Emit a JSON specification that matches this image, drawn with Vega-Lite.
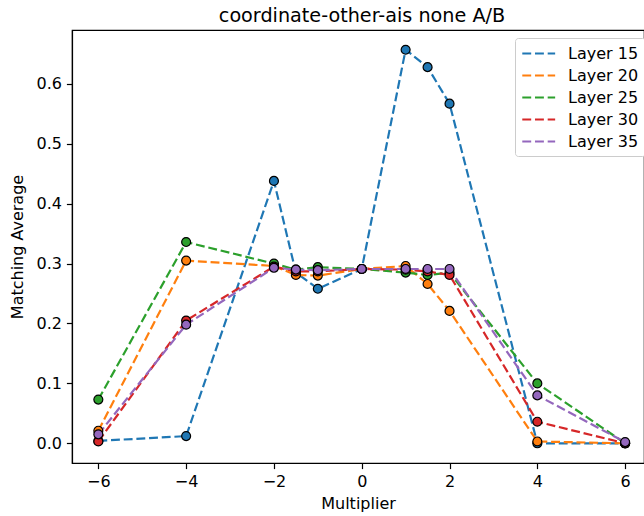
{
  "$schema": "https://vega.github.io/schema/vega-lite/v6.json",
  "autosize": {"type": "none"},
  "padding": {"left": 72, "top": 30, "right": 0, "bottom": 53},
  "width": 572,
  "height": 433,
  "background": "white",
  "title": {"text": "coordinate-other-ais none A/B", "font": "DejaVu Sans", "fontSize": 19.2, "fontWeight": "normal", "color": "black", "offset": 4, "anchor": "middle", "dx": 4},
  "config": {
    "font": "DejaVu Sans",
    "view": {"stroke": "black", "strokeWidth": 1.2},
    "axis": {"grid": false, "domainColor": "black", "domainWidth": 1.2, "tickColor": "black", "tickWidth": 1.2, "tickSize": 5.6, "labelPadding": 5, "labelFontSize": 16, "titleFontSize": 16, "labelColor": "black", "titleColor": "black", "titleFontWeight": "normal", "labelFont": "DejaVu Sans", "titleFont": "DejaVu Sans"}
  },
  "data": {"values": [
    {"layer": "Layer 15", "x": -6, "y": 0.004},
    {"layer": "Layer 15", "x": -4, "y": 0.012},
    {"layer": "Layer 15", "x": -2, "y": 0.438},
    {"layer": "Layer 15", "x": -1.5, "y": 0.285},
    {"layer": "Layer 15", "x": -1, "y": 0.258},
    {"layer": "Layer 15", "x": 0, "y": 0.291},
    {"layer": "Layer 15", "x": 1, "y": 0.657},
    {"layer": "Layer 15", "x": 1.5, "y": 0.628},
    {"layer": "Layer 15", "x": 2, "y": 0.567},
    {"layer": "Layer 15", "x": 4, "y": 0.0},
    {"layer": "Layer 15", "x": 6, "y": 0.0},
    {"layer": "Layer 20", "x": -6, "y": 0.021},
    {"layer": "Layer 20", "x": -4, "y": 0.305},
    {"layer": "Layer 20", "x": -2, "y": 0.296},
    {"layer": "Layer 20", "x": -1.5, "y": 0.281},
    {"layer": "Layer 20", "x": -1, "y": 0.28},
    {"layer": "Layer 20", "x": 0, "y": 0.291},
    {"layer": "Layer 20", "x": 1, "y": 0.296},
    {"layer": "Layer 20", "x": 1.5, "y": 0.266},
    {"layer": "Layer 20", "x": 2, "y": 0.221},
    {"layer": "Layer 20", "x": 4, "y": 0.003},
    {"layer": "Layer 20", "x": 6, "y": 0.0},
    {"layer": "Layer 25", "x": -6, "y": 0.073},
    {"layer": "Layer 25", "x": -4, "y": 0.336},
    {"layer": "Layer 25", "x": -2, "y": 0.3},
    {"layer": "Layer 25", "x": -1.5, "y": 0.29},
    {"layer": "Layer 25", "x": -1, "y": 0.294},
    {"layer": "Layer 25", "x": 0, "y": 0.291},
    {"layer": "Layer 25", "x": 1, "y": 0.285},
    {"layer": "Layer 25", "x": 1.5, "y": 0.281},
    {"layer": "Layer 25", "x": 2, "y": 0.285},
    {"layer": "Layer 25", "x": 4, "y": 0.1},
    {"layer": "Layer 25", "x": 6, "y": 0.0},
    {"layer": "Layer 30", "x": -6, "y": 0.003},
    {"layer": "Layer 30", "x": -4, "y": 0.205},
    {"layer": "Layer 30", "x": -2, "y": 0.295},
    {"layer": "Layer 30", "x": -1.5, "y": 0.287},
    {"layer": "Layer 30", "x": -1, "y": 0.287},
    {"layer": "Layer 30", "x": 0, "y": 0.291},
    {"layer": "Layer 30", "x": 1, "y": 0.29},
    {"layer": "Layer 30", "x": 1.5, "y": 0.287},
    {"layer": "Layer 30", "x": 2, "y": 0.281},
    {"layer": "Layer 30", "x": 4, "y": 0.036},
    {"layer": "Layer 30", "x": 6, "y": 0.0},
    {"layer": "Layer 35", "x": -6, "y": 0.015},
    {"layer": "Layer 35", "x": -4, "y": 0.198},
    {"layer": "Layer 35", "x": -2, "y": 0.293},
    {"layer": "Layer 35", "x": -1.5, "y": 0.29},
    {"layer": "Layer 35", "x": -1, "y": 0.289},
    {"layer": "Layer 35", "x": 0, "y": 0.291},
    {"layer": "Layer 35", "x": 1, "y": 0.291},
    {"layer": "Layer 35", "x": 1.5, "y": 0.291},
    {"layer": "Layer 35", "x": 2, "y": 0.291},
    {"layer": "Layer 35", "x": 4, "y": 0.08},
    {"layer": "Layer 35", "x": 6, "y": 0.002}
  ]},
  "encoding": {
    "x": {"field": "x", "type": "quantitative", "title": "Multiplier", "scale": {"domain": [-6.6, 6.43], "nice": false, "zero": false}, "axis": {"values": [-6, -4, -2, 0, 2, 4, 6], "format": "d", "titlePadding": 6}},
    "y": {"field": "y", "type": "quantitative", "title": "Matching Average", "scale": {"domain": [-0.0329, 0.69], "nice": false, "zero": false}, "axis": {"values": [0, 0.1, 0.2, 0.3, 0.4, 0.5, 0.6], "format": ".1f", "titlePadding": 10}},
    "color": {"field": "layer", "type": "nominal", "scale": {"domain": ["Layer 15", "Layer 20", "Layer 25", "Layer 30", "Layer 35"], "range": ["#1f77b4", "#ff7f0e", "#2ca02c", "#d62728", "#9467bd"]}}
  },
  "layer": [
    {
      "mark": {"type": "line", "strokeDash": [8.9, 3.8], "strokeWidth": 2.2, "clip": true},
      "encoding": {
        "color": {"field": "layer", "type": "nominal", "legend": {"title": null, "orient": "none", "legendX": 443, "legendY": 8, "symbolType": "M-1,0H3", "symbolSize": 270, "symbolStrokeWidth": 2.2, "symbolDash": [8.9, 3.8], "labelFontSize": 16, "labelFont": "DejaVu Sans", "labelColor": "black", "rowPadding": 4, "labelOffset": 28, "padding": 6, "strokeColor": "#cccccc", "cornerRadius": 3, "fillColor": "white"}}
      }
    },
    {
      "mark": {"type": "point", "filled": true, "size": 80, "stroke": "black", "strokeWidth": 1.2, "opacity": 1, "clip": true},
      "encoding": {
        "fill": {"field": "layer", "type": "nominal", "legend": null, "scale": {"domain": ["Layer 15", "Layer 20", "Layer 25", "Layer 30", "Layer 35"], "range": ["#1f77b4", "#ff7f0e", "#2ca02c", "#d62728", "#9467bd"]}},
        "color": {"value": null}
      }
    }
  ]
}
